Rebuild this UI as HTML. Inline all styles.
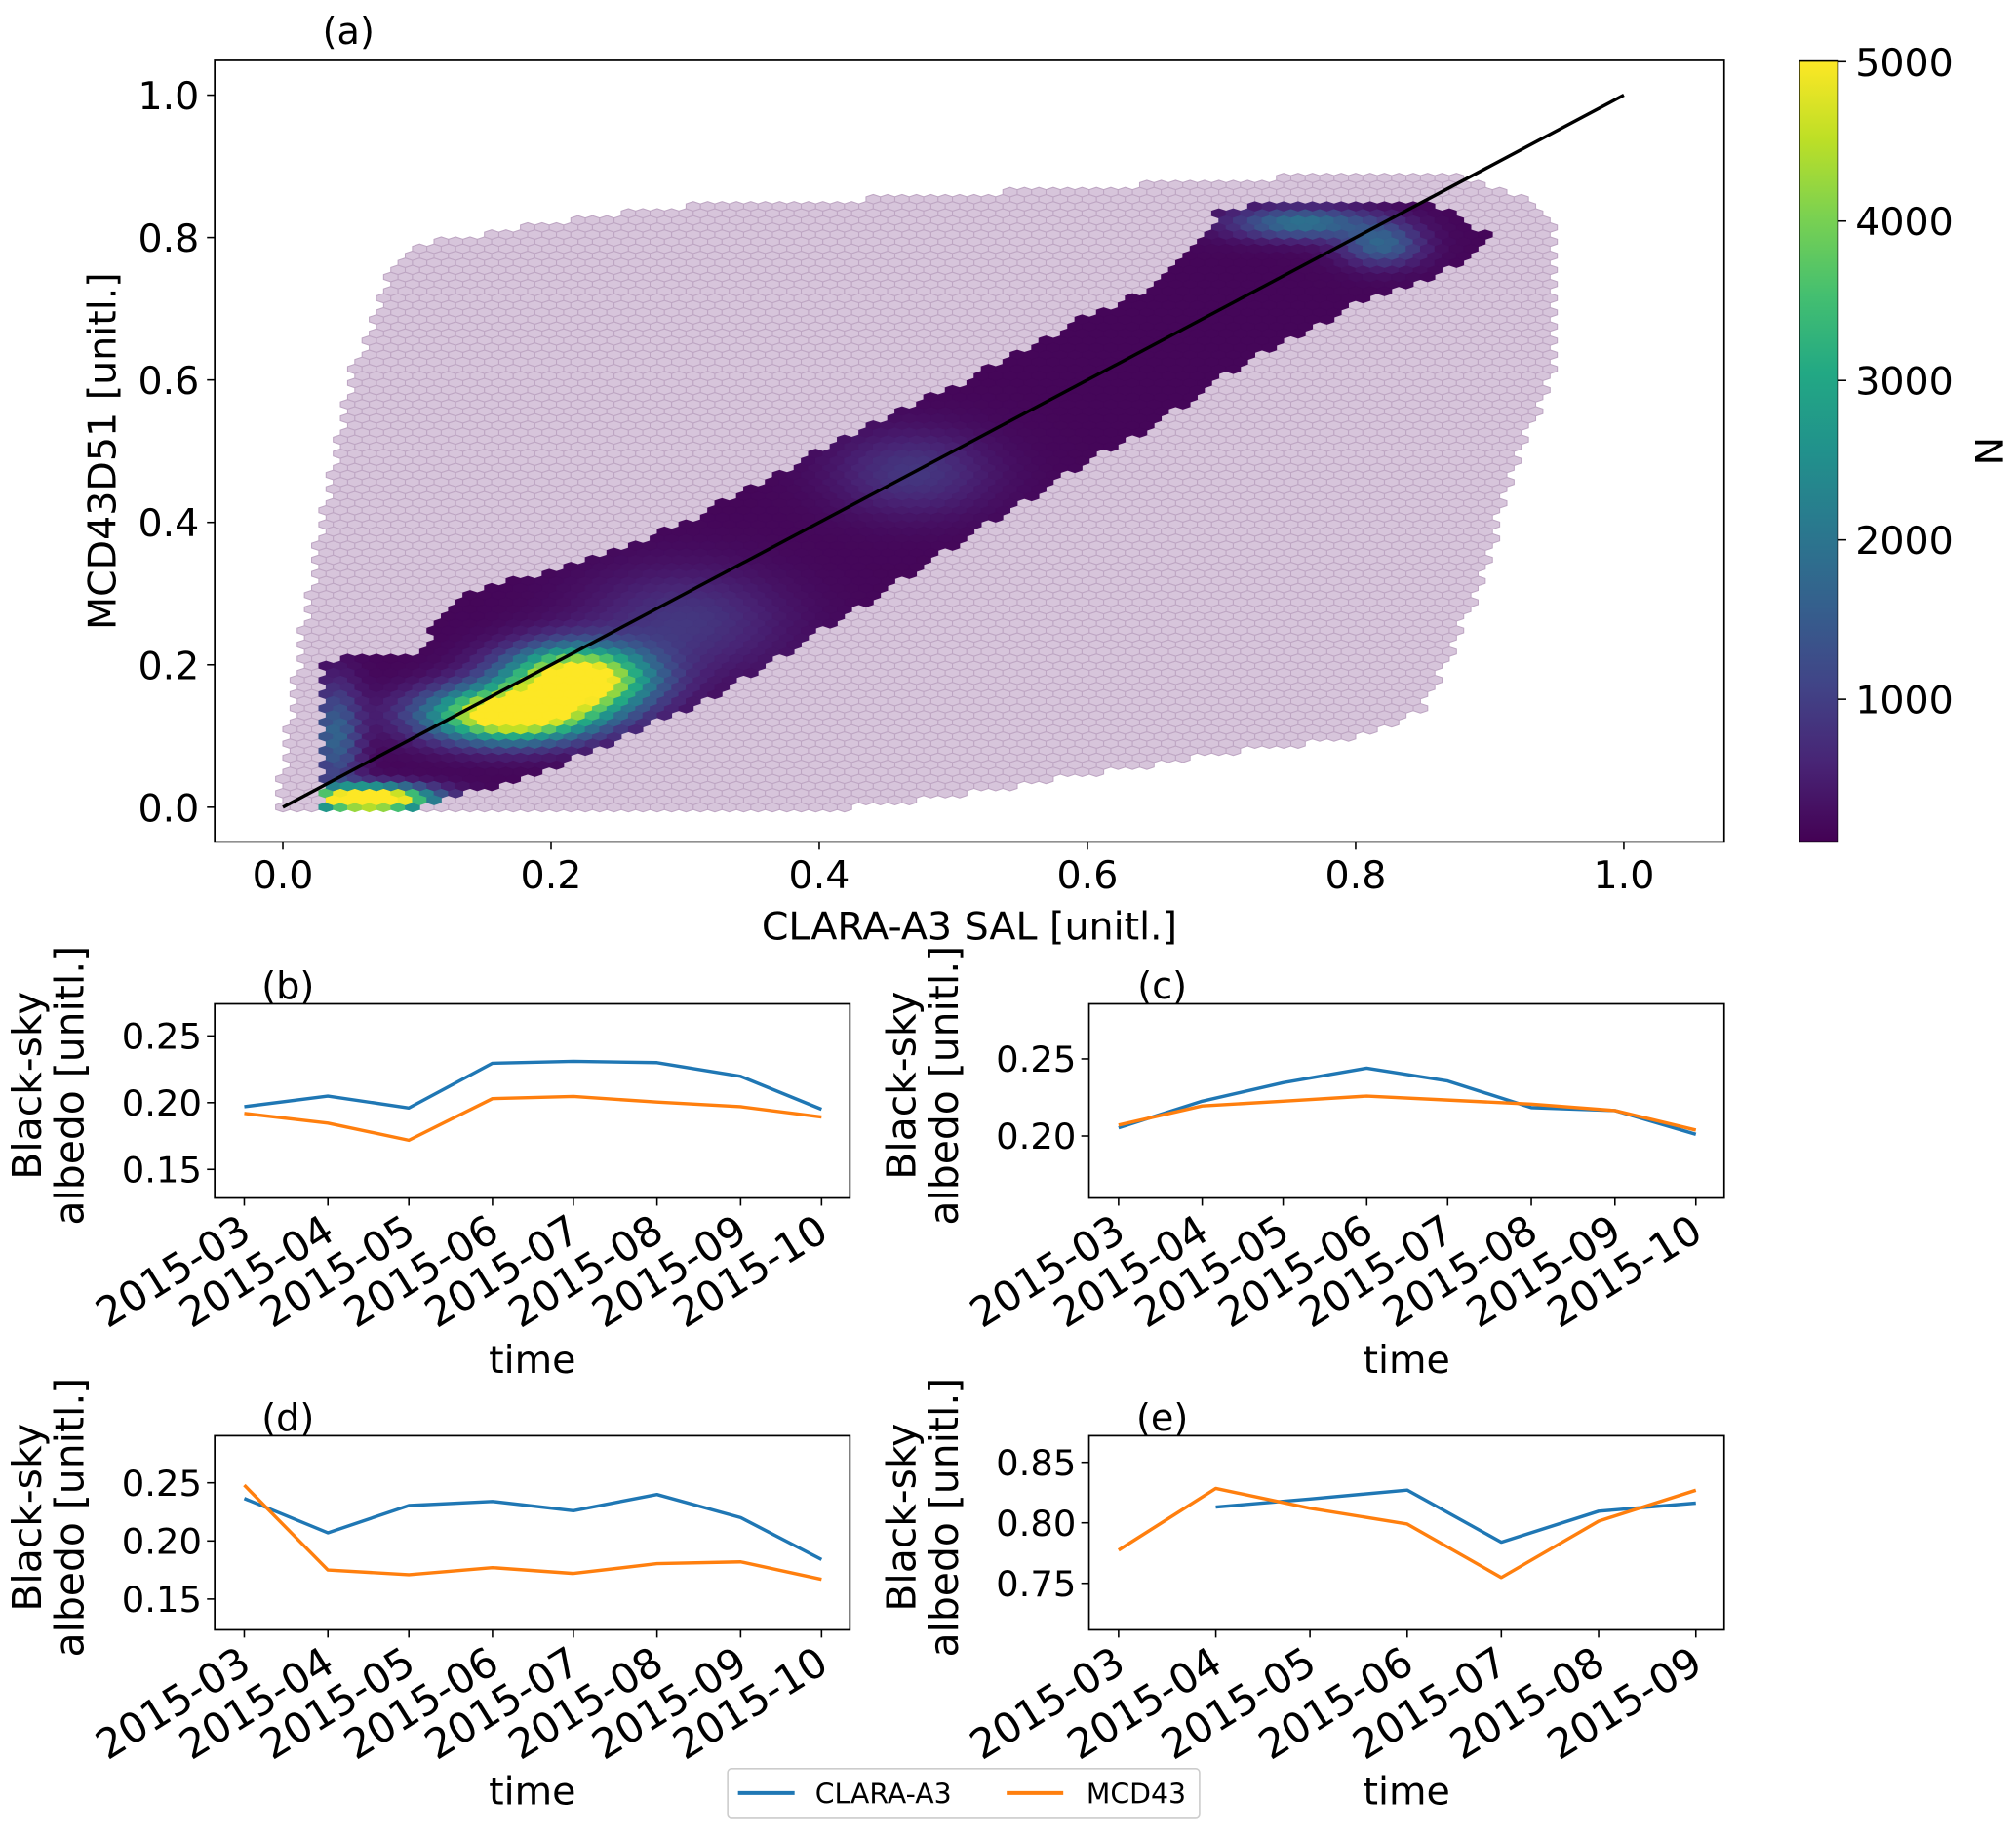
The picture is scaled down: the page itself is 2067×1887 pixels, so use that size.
<!DOCTYPE html>
<html><head><meta charset="utf-8">
<style>
html,body{margin:0;padding:0;background:#fff;}
svg{display:block;}
text{font-family:"DejaVu Sans","Liberation Sans",sans-serif;fill:#000;}
</style></head>
<body>
<svg id="fig" xmlns="http://www.w3.org/2000/svg" width="2067" height="1887" viewBox="0 0 1568 1431.5" preserveAspectRatio="none">
<defs>
<linearGradient id="viridis" x1="0" y1="1" x2="0" y2="0">
<stop offset="0" stop-color="#440154"/><stop offset="0.1" stop-color="#482475"/><stop offset="0.2" stop-color="#414487"/>
<stop offset="0.3" stop-color="#355f8d"/><stop offset="0.4" stop-color="#2a788e"/><stop offset="0.5" stop-color="#21918c"/>
<stop offset="0.6" stop-color="#22a884"/><stop offset="0.7" stop-color="#44bf70"/><stop offset="0.8" stop-color="#7ad151"/>
<stop offset="0.9" stop-color="#bddf26"/><stop offset="1" stop-color="#fde725"/>
</linearGradient>
<clipPath id="clipA"><rect x="167" y="47" width="1174" height="608"/></clipPath>
</defs>
<g id="panelA"></g>
<g id="panelB"></g>
<g id="panelC"></g>
<g id="panelD"></g>
<g id="panelE"></g>
<g id="legend">
<rect x="566" y="1376" width="367" height="38" rx="3" fill="#fff" stroke="#ccc" stroke-width="1.2"/>
<line x1="574" y1="1395" x2="618" y2="1395" stroke="#1f77b4" stroke-width="3"/>
<text x="634" y="1403" font-size="21.5">CLARA-A3</text>
<line x1="783" y1="1395" x2="827" y2="1395" stroke="#ff7f0e" stroke-width="3"/>
<text x="845" y="1403" font-size="21.5">MCD43</text>
</g>
</svg>
<script>
// ---------- Panel (a) hexbin data ----------
const paleX  = [0.00,0.02,0.05,0.08,0.10,0.20,0.30,0.40,0.50,0.60,0.70,0.80,0.85,0.89,0.92,0.95];
const paleLo = [0.00,0.00,0.00,0.00,0.00,0.00,0.00,0.00,0.02,0.05,0.08,0.10,0.14,0.30,0.50,0.62];
const paleHi = [0.05,0.30,0.60,0.75,0.79,0.82,0.845,0.85,0.86,0.87,0.88,0.89,0.89,0.88,0.86,0.82];
const bandX  = [0.03,0.05,0.10,0.12,0.15,0.20,0.25,0.30,0.35,0.40,0.45,0.50,0.55,0.60,0.65,0.68,0.70,0.75,0.80,0.85,0.88,0.90];
const bandLo = [0.00,0.00,0.00,0.02,0.03,0.06,0.10,0.14,0.19,0.25,0.31,0.37,0.43,0.49,0.54,0.58,0.61,0.66,0.71,0.74,0.77,0.80];
const bandHi = [0.20,0.21,0.21,0.28,0.31,0.33,0.36,0.40,0.45,0.50,0.55,0.59,0.64,0.69,0.73,0.79,0.84,0.85,0.85,0.85,0.83,0.80];
const hotX   = [0.17,0.22,0.065,0.04,0.30,0.47,0.76,0.82];
const hotY   = [0.13,0.18,0.012,0.10,0.26,0.47,0.82,0.79];
const hotRX  = [0.040,0.035,0.030,0.012,0.05,0.04,0.035,0.02];
const hotRY  = [0.025,0.030,0.012,0.050,0.05,0.04,0.015,0.02];
const hotN   = [6000,6000,7000,1500,700,700,1800,1500];
const axATicks = [0.0,0.2,0.4,0.6,0.8,1.0];
const cbTicks = [1000,2000,3000,4000,5000];

// ---------- time series data ----------
const months8 = ["2015-03","2015-04","2015-05","2015-06","2015-07","2015-08","2015-09","2015-10"];
const months7 = ["2015-03","2015-04","2015-05","2015-06","2015-07","2015-08","2015-09"];
const monthDays8 = [0,31,61,92,122,153,184,214];
const monthDays7 = [0,31,61,92,122,153,184];
const bClara = [0.197,0.205,0.196,0.2295,0.231,0.230,0.2197,0.195];
const bMcd   = [0.192,0.1846,0.1718,0.203,0.2047,0.2004,0.197,0.1893];
const cClara = [0.2053,0.2226,0.2346,0.2440,0.2357,0.2184,0.2165,0.2011];
const cMcd   = [0.2071,0.2195,0.2226,0.2259,0.2233,0.2207,0.2165,0.2038];
const dClara = [0.2365,0.207,0.2305,0.234,0.226,0.240,0.220,0.184];
const dMcd   = [0.248,0.175,0.171,0.177,0.172,0.1805,0.182,0.167];
const eClara = [null,0.813,0.8197,0.827,0.784,0.8096,0.8163];
const eMcd   = [0.7774,0.8284,0.812,0.799,0.7548,0.8014,0.8269];
const ticksBD = [0.15,0.20,0.25];
const ticksC  = [0.20,0.25];
const ticksE  = [0.75,0.80,0.85];

const NS = "http://www.w3.org/2000/svg";
function mk(tag, attrs, parent){const e=document.createElementNS(NS,tag);for(const k in attrs)e.setAttribute(k,attrs[k]);parent.appendChild(e);return e;}
function interp(xs, ys, x){ if(x<xs[0]||x>xs[xs.length-1])return null; for(let i=0;i<xs.length-1;i++){ if(x<=xs[i+1]){const t=(x-xs[i])/(xs[i+1]-xs[i]);return ys[i]+t*(ys[i+1]-ys[i]);}} return ys[ys.length-1];}
const vstops=["#440154","#482475","#414487","#355f8d","#2a788e","#21918c","#22a884","#44bf70","#7ad151","#bddf26","#fde725"];
function hex2rgb(h){return [parseInt(h.substr(1,2),16),parseInt(h.substr(3,2),16),parseInt(h.substr(5,2),16)];}
function viridis(t){t=Math.max(0,Math.min(1,t));const p=t*10,i=Math.min(9,Math.floor(p)),f=p-i;const a=hex2rgb(vstops[i]),b=hex2rgb(vstops[i+1]);return `rgb(${Math.round(a[0]+(b[0]-a[0])*f)},${Math.round(a[1]+(b[1]-a[1])*f)},${Math.round(a[2]+(b[2]-a[2])*f)})`;}

// ----- Panel A -----
(function(){
const g=document.getElementById('panelA');
const X=v=>220+v*1043, Y=v=>628-v*554;
const cbY=v=>655-(v-105)/1000*124;
const hexG=mk('g',{'clip-path':'url(#clipA)'},g);


const sx=11.2/1043, sy=11.0/554;
const hw=11.2/2, hv=11.0/3, hs=11.0/6;
let pale='', dense=[];
for(let lat=0;lat<2;lat++){
  for(let i=-2;i<100;i++){
    for(let j=-2;j<95;j++){
      const dx=(i+(lat?0.5:0))*sx, dy=(j+(lat?0.5:0))*sy;
      const lo=interp(paleX,paleLo,dx), hi=interp(paleX,paleHi,dx);
      if(lo===null||dy<lo-0.004||dy>hi) continue;
      const px=X(dx), py=Y(dy);
      const pts=`${px+hw},${py-hs} ${px+hw},${py+hs} ${px},${py+hv} ${px-hw},${py+hs} ${px-hw},${py-hs} ${px},${py-hv}`;
      const bl=interp(bandX,bandLo,dx), bh=interp(bandX,bandHi,dx);
      if(bl!==null && dy>=bl-0.004 && dy<=bh){
        let n=180;
        for(let k=0;k<hotX.length;k++){const ux=(dx-hotX[k])/hotRX[k],uy=(dy-hotY[k])/hotRY[k];n+=hotN[k]*Math.exp(-0.5*(ux*ux+uy*uy));}
        dense.push([pts,viridis((n-105)/(5000-105))]);
      } else pale+=`<polygon points="${pts}"/>`;
    }
  }
}
const pg=mk('g',{fill:'#d7c5db',stroke:'#bea6c3','stroke-width':'0.8'},hexG);


pg.innerHTML=pale;
const dg=mk('g',{},hexG);


let s='';for(const d of dense)s+=`<polygon points="${d[0]}" fill="${d[1]}" stroke="${d[1]}" stroke-width="0.6"/>`;dg.innerHTML=s;
const ln=mk('line',{x1:X(0),y1:Y(0),x2:X(1),y2:Y(1),stroke:'#000','stroke-width':2.6},g);


mk('rect',{x:167,y:47,width:1174,height:608,fill:'none',stroke:'#000','stroke-width':1.3},g);
for(const t of axATicks){
  mk('line',{x1:X(t),y1:655,x2:X(t),y2:661,stroke:'#000','stroke-width':1.2},g);
  const tx=mk('text',{x:X(t),y:691,'font-size':30,'text-anchor':'middle'},g);tx.textContent=t.toFixed(1);
  
  
  mk('line',{x1:161,y1:Y(t),x2:167,y2:Y(t),stroke:'#000','stroke-width':1.2},g);
  const ty=mk('text',{x:155,y:Y(t)+11,'font-size':30,'text-anchor':'end'},g);ty.textContent=t.toFixed(1);
  
  
}
const xl=mk('text',{x:754,y:731,'font-size':30,'text-anchor':'middle'},g);xl.textContent='CLARA-A3 SAL [unitl.]';


const yl=mk('text',{x:0,y:0,'font-size':30,'text-anchor':'middle',transform:'translate(90,351) rotate(-90)'},g);yl.textContent='MCD43D51 [unitl.]';


const ti=mk('text',{x:271,y:34,'font-size':29,'text-anchor':'middle'},g);ti.textContent='(a)';


const cb=mk('rect',{x:1399.5,y:47.5,width:30,height:607.5,fill:'url(#viridis)',stroke:'#000','stroke-width':1.2},g);


for(const t of cbTicks){
  mk('line',{x1:1429.5,y1:cbY(t),x2:1436,y2:cbY(t),stroke:'#000','stroke-width':1.2},g);
  const ct=mk('text',{x:1443,y:cbY(t)+11,'font-size':30},g);ct.textContent=String(t);
  
  
}
const cl=mk('text',{x:0,y:0,'font-size':30,'text-anchor':'middle',transform:'translate(1536,351) rotate(90)'},g);cl.textContent='N';


})();

// ----- time series panels -----
function tsPanel(id,label,x0,y0,yMin,yMax,yTicks,cats,days,clara,mcd){
  const g=document.getElementById(id);
  const w=494,h=151;
  const left=x0+23, right=x0+472;
  const maxD=days[days.length-1];
  const X=i=>left+days[i]/maxD*(right-left);
  const Y=v=>y0+h-(v-yMin)/(yMax-yMin)*h;
  mk('rect',{x:x0,y:y0,width:w,height:h,fill:'none',stroke:'#000','stroke-width':1.3},g);
  for(const t of yTicks){
    mk('line',{x1:x0-6,y1:Y(t),x2:x0,y2:Y(t),stroke:'#000','stroke-width':1.2},g);
    const ty=mk('text',{x:x0-10,y:Y(t)+10,'font-size':28,'text-anchor':'end'},g);ty.textContent=t.toFixed(2);
    
    
  }
  cats.forEach((c,i)=>{
    const x=X(i);
    mk('line',{x1:x,y1:y0+h,x2:x,y2:y0+h+6,stroke:'#000','stroke-width':1.2},g);
    const t=mk('text',{x:0,y:0,'font-size':32,'text-anchor':'end',transform:`translate(${x+7},${y0+h+31}) rotate(-32)`},g);t.textContent=c;
    
    
  });
  function series(vals,color,name){
    let d='';vals.forEach((v,i)=>{if(v===null)return;d+=(d?'L':'M')+X(i).toFixed(1)+','+Y(v).toFixed(1);});
    const p=mk('path',{d:d,fill:'none',stroke:color,'stroke-width':2.6,'stroke-linejoin':'round'},g);
    
    
  }
  series(clara,'#1f77b4','clara-a3-line');
  series(mcd,'#ff7f0e','mcd43-line');
  const tl=mk('text',{x:x0+w/2,y:y0+h+136,'font-size':30,'text-anchor':'middle'},g);tl.textContent='time';
  
  
  const yl=mk('text',{x:0,y:0,'font-size':31,'text-anchor':'middle',transform:`translate(${x0-135},${y0+h/2-12}) rotate(-90)`},g);
  
  
  const t1=mk('tspan',{x:0,dy:0},yl);t1.textContent='Black-sky';
  const t2=mk('tspan',{x:0,dy:33},yl);t2.textContent='albedo [unitl.]';
  const pl=mk('text',{x:x0+57,y:y0-4,'font-size':29,'text-anchor':'middle'},g);pl.textContent=label;
  
  
}
tsPanel('panelB','(b)',167,781,0.1286,0.274,ticksBD,months8,monthDays8,bClara,bMcd);
tsPanel('panelC','(c)',847,781,0.1598,0.2857,ticksC,months8,monthDays8,cClara,cMcd);
tsPanel('panelD','(d)',167,1117,0.1235,0.2905,ticksBD,months8,monthDays8,dClara,dMcd);
tsPanel('panelE','(e)',847,1117,0.7115,0.872,ticksE,months7,monthDays7,eClara,eMcd);
</script>
</body></html>
